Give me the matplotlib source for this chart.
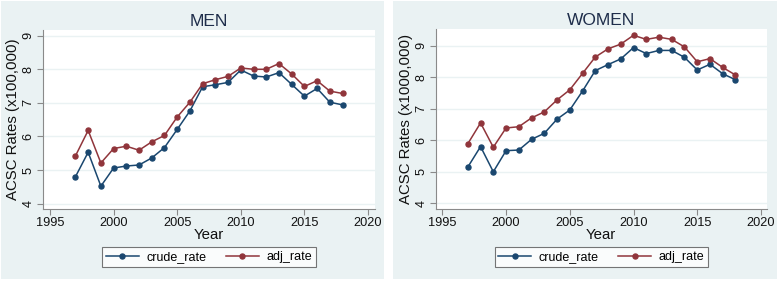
import matplotlib
matplotlib.use("Agg")
import matplotlib.pyplot as plt

years = list(range(1997, 2019))
men_crude = [4.80, 5.53, 4.52, 5.06, 5.12, 5.15, 5.36, 5.67, 6.21, 6.76, 7.48,
             7.54, 7.61, 7.98, 7.80, 7.77, 7.90, 7.55, 7.20, 7.43, 7.02, 6.94]
men_adj = [5.42, 6.18, 5.21, 5.64, 5.71, 5.59, 5.84, 6.03, 6.58, 7.02, 7.57,
           7.69, 7.79, 8.04, 8.00, 8.00, 8.17, 7.86, 7.49, 7.66, 7.35, 7.28]
women_crude = [5.15, 5.80, 5.00, 5.67, 5.69, 6.03, 6.22, 6.67, 6.96, 7.56, 8.21,
               8.40, 8.58, 8.94, 8.75, 8.85, 8.85, 8.63, 8.23, 8.41, 8.11, 7.92]
women_adj = [5.89, 6.55, 5.78, 6.39, 6.43, 6.71, 6.90, 7.28, 7.60, 8.12, 8.64,
             8.90, 9.05, 9.33, 9.20, 9.27, 9.20, 8.96, 8.49, 8.59, 8.31, 8.07]
titles = ["MEN", "WOMEN"]
ylabels = ["ACSC Rates (x100,000)", "ACSC Rates (x1000,000)"]
series_labels = ["crude_rate", "adj_rate"]
xticks = [1995, 2000, 2005, 2010, 2015, 2020]
yticks = [4, 5, 6, 7, 8, 9]

plt.rcParams['font.family'] = ['Liberation Sans', 'DejaVu Sans']

W, H = 778, 281
fig = plt.figure(figsize=(W / 100, H / 100), dpi=100)
fig.patch.set_facecolor('white')

BG = '#EAF2F3'
BLUE = '#1a476f'
RED = '#90353b'
GRID = '#EAF2F3'
SPINE = '#8a8a8a'

def px(x0, y0, x1, y1):
    return [x0 / W, 1 - y1 / H, (x1 - x0) / W, (y1 - y0) / H]

panels = [
    dict(bg=(1, 1, 384, 279), ax=(43, 30, 375, 209), ylim=(3.84, 9.17), xlim=(1994.45, 2020.55),
         crude=men_crude, adj=men_adj),
    dict(bg=(393, 1, 777, 279), ax=(435.7, 29.3, 766.7, 209), ylim=(3.82, 9.52), xlim=(1994.48, 2020.45),
         crude=women_crude, adj=women_adj),
]

for i, p in enumerate(panels):
    x0, y0, x1, y1 = p['bg']
    bgax = fig.add_axes(px(x0, y0, x1, y1), zorder=-5)
    bgax.set_facecolor(BG)
    bgax.set_xticks([])
    bgax.set_yticks([])
    for s in bgax.spines.values():
        s.set_visible(False)
    ax = fig.add_axes(px(*p['ax']), zorder=1)
    ax.set_facecolor('white')
    l1, = ax.plot(years, p['crude'], color=BLUE, lw=1.1, marker='o', ms=3.6, label=series_labels[0])
    l2, = ax.plot(years, p['adj'], color=RED, lw=1.1, marker='o', ms=3.6, label=series_labels[1])
    ax.set_xlim(*p['xlim'])
    ax.set_ylim(*p['ylim'])
    ax.set_xticks(xticks)
    ax.set_yticks(yticks)
    ax.set_yticklabels([str(v) for v in yticks], rotation=90, va='center')
    ax.tick_params(axis='both', direction='out', length=4, width=0.8, color=SPINE,
                   labelsize=9.2, labelcolor='#111111', pad=2)
    ax.yaxis.grid(True, color=GRID, lw=1.0)
    ax.set_axisbelow(True)
    for s in ['top', 'right']:
        ax.spines[s].set_visible(False)
    for s in ['left', 'bottom']:
        ax.spines[s].set_color(SPINE)
        ax.spines[s].set_linewidth(0.8)
    ax.set_title(titles[i], fontsize=12.5, color='#1e2d4a', pad=3)
    ax.set_xlabel('Year', fontsize=10.8, labelpad=-1, color='#111111')
    ax.set_ylabel(ylabels[i], fontsize=10.8, labelpad=2, color='#111111')
    ax0, ay0, ax1, ay1 = p['ax']
    cx = (ax0 + ax1) / 2
    leg = ax.legend(handles=[l1, l2], ncol=2, loc='center',
                    bbox_to_anchor=(cx / W, 1 - 257 / H), bbox_transform=fig.transFigure,
                    fontsize=9, frameon=True, fancybox=False, handlelength=2.6,
                    columnspacing=1.6, handletextpad=0.6, borderpad=0.3)
    leg.get_frame().set_edgecolor('#555555')
    leg.get_frame().set_linewidth(0.8)
    leg.get_frame().set_facecolor('white')

fig.savefig('out.png', dpi=100, facecolor=fig.get_facecolor())
